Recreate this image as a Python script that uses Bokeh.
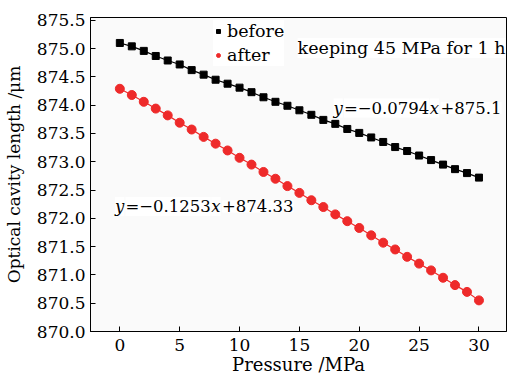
from bokeh.plotting import figure
from bokeh.models import Range1d, FixedTicker, PrintfTickFormatter, Legend, LegendItem, Label
from bokeh.embed import file_html
from bokeh.resources import INLINE

# ---- data ----
pressure = list(range(0, 31))
before = [875.10, 875.04, 874.96, 874.87, 874.79, 874.72, 874.62, 874.54, 874.45, 874.38,
          874.31, 874.23, 874.14, 874.06, 873.99, 873.91, 873.83, 873.74, 873.67, 873.58,
          873.51, 873.43, 873.35, 873.26, 873.19, 873.11, 873.03, 872.95, 872.87, 872.80,
          872.72]
after = [874.29, 874.18, 874.06, 873.94, 873.82, 873.69, 873.57, 873.44, 873.32, 873.20,
         873.07, 872.95, 872.82, 872.70, 872.57, 872.45, 872.32, 872.20, 872.07, 871.95,
         871.83, 871.70, 871.57, 871.45, 871.32, 871.20, 871.08, 870.95, 870.82, 870.70,
         870.55]
series_labels = ["before", "after"]
x_ticks = [0, 5, 10, 15, 20, 25, 30]
y_ticks = [870.0, 870.5, 871.0, 871.5, 872.0, 872.5, 873.0, 873.5, 874.0, 874.5, 875.0, 875.5]
x_title = "Pressure /MPa"
y_title = "Optical cavity length /\u03bcm"
note_text = "keeping 45 MPa for 1 h"
eq_before = [("y", True), ("=\u22120.0794", False), ("x", True), ("+875.1", False)]
eq_after = [("y", True), ("=\u22120.1253", False), ("x", True), ("+874.33", False)]

FONT = "DejaVu Serif"
RED = "#ee2a2a"

p = figure(width=508, height=377, output_backend="svg", toolbar_location=None,
           x_range=Range1d(-2.45, 32.3), y_range=Range1d(870.0, 875.55),
           min_border_left=86, min_border_right=2, min_border_top=17, min_border_bottom=46,
           background_fill_color="#fafafa", border_fill_color="white")
p.grid.visible = False
p.outline_line_color = "black"
p.outline_line_width = 1

for ax in (p.xaxis[0], p.yaxis[0]):
    ax.major_tick_in = 5
    ax.major_tick_out = 0
    ax.minor_tick_line_color = None
    ax.axis_line_color = "black"
    ax.major_tick_line_color = "black"
    ax.major_label_text_font = FONT
    ax.major_label_text_font_size = "17px"
    ax.major_label_text_color = "black"
    ax.axis_label_text_font = FONT
    ax.axis_label_text_font_style = "normal"
    ax.axis_label_text_color = "black"

p.xaxis.axis_label_text_font_size = "18px"
p.yaxis.axis_label_text_font_size = "17px"
p.xaxis.ticker = FixedTicker(ticks=x_ticks)
p.yaxis.ticker = FixedTicker(ticks=y_ticks)
p.yaxis.formatter = PrintfTickFormatter(format="%.1f")
p.xaxis.axis_label = x_title
p.yaxis.axis_label = y_title
p.xaxis.major_label_standoff = 7
p.xaxis.axis_label_standoff = 0
p.yaxis.major_label_standoff = 5
p.yaxis.axis_label_standoff = 10

p.line(pressure, before, color="black", line_width=1.2)
r_b = p.scatter(pressure, before, marker="square", size=7, color="black")
p.line(pressure, after, color=RED, line_width=1.2)
r_a = p.scatter(pressure, after, marker="circle", size=9, color=RED)

legend = Legend(items=[LegendItem(label=series_labels[0], renderers=[r_b]),
                       LegendItem(label=series_labels[1], renderers=[r_a])],
                location=(123, 265), padding=0, margin=0, spacing=2,
                glyph_width=10, glyph_height=22, label_height=22, label_standoff=4,
                label_text_font=FONT, label_text_font_size="17.5px",
                label_text_color="black",
                border_line_color=None, background_fill_color="white",
                background_fill_alpha=1.0)
p.add_layout(legend)

p.add_layout(Label(x=14.85, y=875.01, text=note_text, text_font=FONT,
                   text_font_size="17.5px", text_baseline="middle", text_color="black",
                   background_fill_color="white"))

EQ_FS = 16.5
EM = {"d": 0.636, ".": 0.318, "=": 0.838, "+": 0.838, "\u2212": 0.838, "y": 0.60, "x": 0.62}


def seg_width(t):
    w = 0.0
    for ch in t:
        key = "d" if ch.isdigit() else ch
        w += EM.get(key, 0.6)
    return w * EQ_FS + 0.5


def equation(x, y, parts):
    off = 0.0
    for t, ital in parts:
        p.add_layout(Label(x=x, y=y, x_offset=off, text=t, text_font=FONT,
                           text_font_size=f"{EQ_FS}px", text_baseline="middle",
                           text_font_style="italic" if ital else "normal",
                           text_color="black", background_fill_color="white"))
        off += seg_width(t)


equation(17.85, 873.95, eq_before)
equation(-0.4, 872.21, eq_after)

open("out.html", "w").write(file_html(p, INLINE))
